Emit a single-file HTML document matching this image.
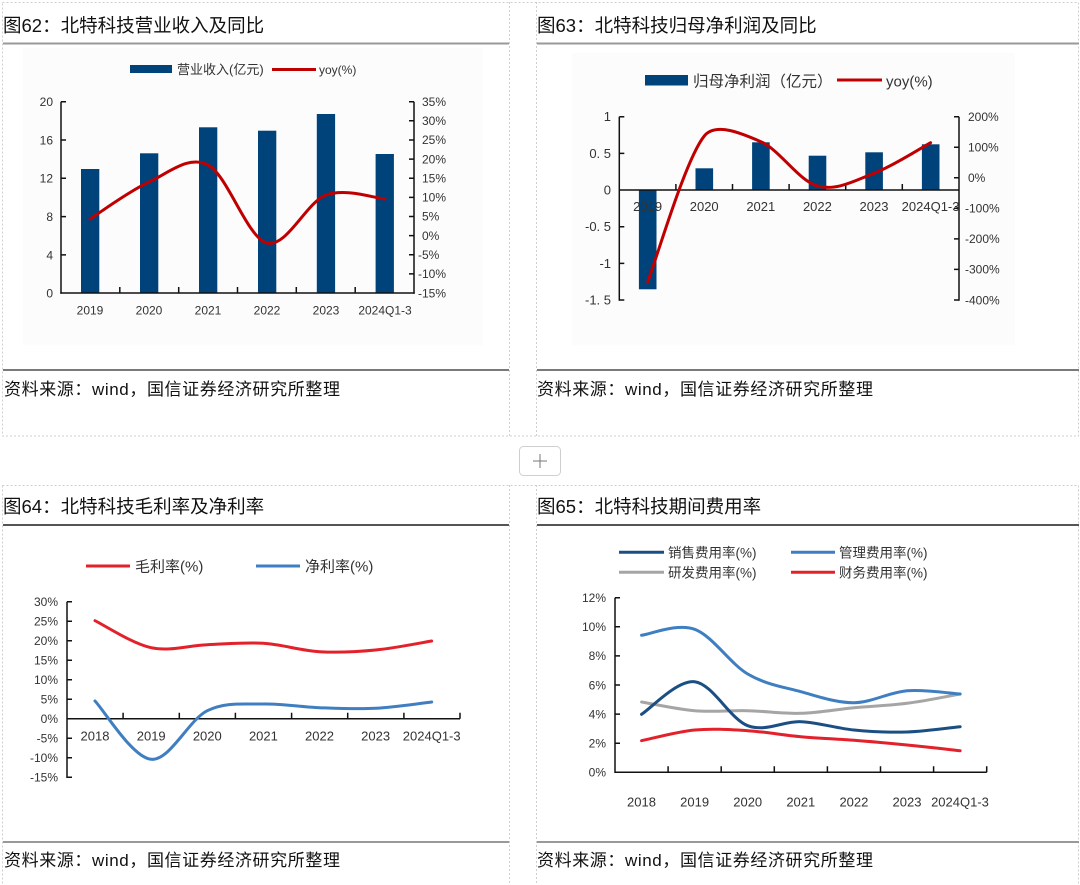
<!DOCTYPE html>
<html><head><meta charset="utf-8">
<style>
html,body{margin:0;padding:0;background:#fff;}
svg{display:block;}
text{font-family:"Liberation Sans","Noto Sans CJK SC",sans-serif;}
.t{font-size:18.5px;fill:#111;}
.src{font-size:17px;fill:#111;letter-spacing:0.6px;}
.ax{font-size:12px;fill:#333;}
.ax13{font-size:13px;fill:#333;}
</style></head><body>
<svg width="1080" height="885" viewBox="0 0 1080 885" xmlns="http://www.w3.org/2000/svg">
<rect width="1080" height="885" fill="#fff"/>
<!-- table borders -->
<g stroke="#cfcfcf" stroke-width="1" stroke-dasharray="2,2" fill="none">
<rect x="2.5" y="2.5" width="1076" height="433.5"/>
<line x1="509.5" y1="2" x2="509.5" y2="436"/>
<line x1="536.5" y1="2" x2="536.5" y2="436"/>
<rect x="2.5" y="485.5" width="1076" height="405"/>
<line x1="509.5" y1="485" x2="509.5" y2="885"/>
<line x1="536.5" y1="485" x2="536.5" y2="885"/>
</g>
<!-- rules -->
<g stroke-width="2">
<line x1="3" y1="43.5" x2="509" y2="43.5" stroke="#999"/>
<line x1="537" y1="43.5" x2="1079" y2="43.5" stroke="#999"/>
<line x1="3" y1="370" x2="509" y2="370" stroke="#7a7a7a"/>
<line x1="537" y1="370" x2="1079" y2="370" stroke="#7a7a7a"/>
<line x1="3" y1="525" x2="509" y2="525" stroke="#555"/>
<line x1="537" y1="525" x2="1079" y2="525" stroke="#555"/>
<line x1="3" y1="842" x2="509" y2="842" stroke="#999"/>
<line x1="537" y1="842" x2="1079" y2="842" stroke="#999"/>
</g>
<!-- plus button -->
<rect x="519.5" y="446.5" width="41" height="29" rx="4" fill="#fff" stroke="#cfcfcf"/>
<line x1="533" y1="461" x2="547" y2="461" stroke="#777" stroke-width="1"/>
<line x1="540" y1="454" x2="540" y2="468" stroke="#777" stroke-width="1"/>
<!-- titles -->
<text class="t" x="3" y="32">图62：北特科技营业收入及同比</text>
<text class="t" x="537" y="32">图63：北特科技归母净利润及同比</text>
<text class="t" x="3" y="513">图64：北特科技毛利率及净利率</text>
<text class="t" x="537" y="513">图65：北特科技期间费用率</text>
<text class="src" x="4" y="395">资料来源：wind，国信证券经济研究所整理</text>
<text class="src" x="537" y="395">资料来源：wind，国信证券经济研究所整理</text>
<text class="src" x="4" y="866">资料来源：wind，国信证券经济研究所整理</text>
<text class="src" x="537" y="866">资料来源：wind，国信证券经济研究所整理</text>

<!-- ================= Chart 1 ================= -->
<rect x="23" y="48" width="460" height="297" fill="#fcfcfc"/>
<rect x="130" y="65" width="42" height="8" fill="#00427a"/>
<text x="177" y="74" style="font-size:13px;fill:#333">营业收入(亿元)</text>
<line x1="272" y1="69.5" x2="316" y2="69.5" stroke="#c00000" stroke-width="3"/>
<text x="319" y="74" style="font-size:12px;fill:#333">yoy(%)</text>
<g fill="#00427a">
<rect x="81" y="169" width="18.3" height="124"/>
<rect x="140" y="153.3" width="18.3" height="139.7"/>
<rect x="199" y="127.3" width="18.3" height="165.7"/>
<rect x="258" y="130.7" width="18.3" height="162.3"/>
<rect x="316.8" y="114" width="18.3" height="179"/>
<rect x="375.6" y="154" width="18.3" height="139"/>
</g>
<g stroke="#111" stroke-width="1.5" fill="none">
<line x1="61" y1="101.7" x2="61" y2="293.8"/>
<line x1="414" y1="101.7" x2="414" y2="293.8"/>
<line x1="60.3" y1="293" x2="414.7" y2="293"/>
<path d="M61,101.7h5M61,140h5M61,178.3h5M61,216.6h5M61,254.9h5"/>
<path d="M409,101.7h5M409,120.8h5M409,140h5M409,159.1h5M409,178.2h5M409,197.4h5M409,216.5h5M409,235.6h5M409,254.8h5M409,273.9h5"/>
<path d="M119.8,293v-6M178.7,293v-6M237.5,293v-6M296.3,293v-6M355.2,293v-6"/>
</g>
<g class="ax" text-anchor="end">
<text x="53" y="106">20</text><text x="53" y="144.5">16</text><text x="53" y="182.7">12</text>
<text x="53" y="221">8</text><text x="53" y="259.3">4</text><text x="53" y="297.5">0</text>
</g>
<g class="ax">
<text x="422" y="106">35%</text><text x="422" y="125">30%</text><text x="422" y="144.2">25%</text>
<text x="422" y="163.3">20%</text><text x="422" y="182.4">15%</text><text x="422" y="201.6">10%</text>
<text x="422" y="220.7">5%</text><text x="422" y="239.8">0%</text><text x="418" y="259">-5%</text>
<text x="418" y="278.1">-10%</text><text x="418" y="297.3">-15%</text>
</g>
<g class="ax" text-anchor="middle">
<text x="90" y="314.5">2019</text><text x="149" y="314.5">2020</text><text x="208" y="314.5">2021</text>
<text x="267" y="314.5">2022</text><text x="326" y="314.5">2023</text><text x="385" y="314.5">2024Q1-3</text>
</g>
<path d="M90,219 C99.8,212.8 129.3,191 149,182 C168.7,173 188.3,154.8 208,165 C227.7,175.2 247.3,238 267,243 C286.7,248 306.3,202.3 326,195 C345.7,187.7 375.2,198.3 385,199" fill="none" stroke="#c00000" stroke-width="3" stroke-linecap="round"/>

<!-- ================= Chart 2 ================= -->
<rect x="572" y="53" width="443" height="292" fill="#fcfcfc"/>
<rect x="645" y="75" width="43" height="10.5" fill="#00427a"/>
<text x="693" y="86.5" style="font-size:15.5px;fill:#333">归母净利润（亿元）</text>
<line x1="837" y1="80" x2="882" y2="80" stroke="#c00000" stroke-width="3"/>
<text x="886" y="86.5" style="font-size:15px;fill:#333">yoy(%)</text>
<g fill="#00427a">
<rect x="638.9" y="190" width="17.6" height="99.3"/>
<rect x="695.5" y="168.3" width="17.6" height="21.7"/>
<rect x="752.1" y="142.3" width="17.6" height="47.7"/>
<rect x="808.7" y="155.7" width="17.6" height="34.3"/>
<rect x="865.3" y="152.3" width="17.6" height="37.7"/>
<rect x="921.9" y="144.3" width="17.6" height="45.7"/>
</g>
<g stroke="#111" stroke-width="1.5" fill="none">
<line x1="619.3" y1="116.7" x2="619.3" y2="300.8"/>
<line x1="959" y1="116.7" x2="959" y2="300.8"/>
<line x1="619.3" y1="190" x2="959" y2="190"/>
<path d="M619.3,116.7h5M619.3,153.4h5M619.3,226.7h5M619.3,263.4h5M619.3,300h5"/>
<path d="M954,116.7h5M954,147.2h5M954,177.8h5M954,208.3h5M954,238.9h5M954,269.4h5M954,300h5"/>
<path d="M675.9,190v-6M732.5,190v-6M789.1,190v-6M845.7,190v-6M902.3,190v-6"/>
</g>
<g class="ax13" text-anchor="end">
<text x="611" y="121.2">1</text><text x="611" y="157.9">0. 5</text><text x="611" y="194.5">0</text>
<text x="611" y="231.2">-0. 5</text><text x="611" y="267.9">-1</text><text x="611" y="304.5">-1. 5</text>
</g>
<g class="ax">
<text x="968" y="121">200%</text><text x="968" y="151.5">100%</text><text x="968" y="182">0%</text>
<text x="965" y="212.6">-100%</text><text x="965" y="243.2">-200%</text><text x="965" y="273.7">-300%</text><text x="965" y="304.3">-400%</text>
</g>
<g class="ax13" text-anchor="middle">
<text x="647.6" y="211.2">2019</text><text x="704.2" y="211.2">2020</text><text x="760.8" y="211.2">2021</text>
<text x="817.4" y="211.2">2022</text><text x="874" y="211.2">2023</text><text x="930.6" y="211.2">2024Q1-3</text>
</g>
<path d="M647.7,281.7 C657.1,257.4 685.4,159.3 704.3,136 C715.6,122 742,133.4 760.9,141.7 C779.8,150 798.6,180.7 817.5,186 C836.4,191.3 855.1,180.5 874,173.3 C892.9,166.1 921.2,147.8 930.6,142.7" fill="none" stroke="#c00000" stroke-width="3" stroke-linecap="round"/>

<!-- ================= Chart 3 ================= -->
<line x1="86" y1="566" x2="130" y2="566" stroke="#e3212b" stroke-width="3"/>
<text x="135" y="571.5" style="font-size:15px;fill:#333">毛利率(%)</text>
<line x1="256" y1="566" x2="300" y2="566" stroke="#3f7fc1" stroke-width="3"/>
<text x="305" y="571.5" style="font-size:15px;fill:#333">净利率(%)</text>
<g stroke="#111" stroke-width="1.5" fill="none">
<line x1="67" y1="601.7" x2="67" y2="778"/>
<line x1="67" y1="718.7" x2="460" y2="718.7"/>
<path d="M67,601.7h5M67,621.2h5M67,640.7h5M67,660.2h5M67,679.7h5M67,699.2h5M67,738.2h5M67,757.7h5M67,777.3h5"/>
<path d="M123.1,718.7v-6M179.3,718.7v-6M235.4,718.7v-6M291.6,718.7v-6M347.7,718.7v-6M403.9,718.7v-6M460,718.7v-6"/>
</g>
<g class="ax" text-anchor="end">
<text x="58" y="606">30%</text><text x="58" y="625.5">25%</text><text x="58" y="645">20%</text>
<text x="58" y="664.5">15%</text><text x="58" y="684">10%</text><text x="58" y="703.5">5%</text>
<text x="58" y="723">0%</text><text x="58" y="742.5">-5%</text><text x="58" y="762">-10%</text><text x="58" y="781.5">-15%</text>
</g>
<g class="ax13" text-anchor="middle">
<text x="95" y="740.5">2018</text><text x="151.2" y="740.5">2019</text><text x="207.3" y="740.5">2020</text>
<text x="263.4" y="740.5">2021</text><text x="319.5" y="740.5">2022</text><text x="375.6" y="740.5">2023</text><text x="431.7" y="740.5">2024Q1-3</text>
</g>
<path d="M95,620.7 C104.35,625.2 132.5,643.7 151.2,647.7 C169.9,651.7 188.6,645.4 207.3,644.7 C226,644 244.7,642.1 263.4,643.3 C282.1,644.5 300.8,650.6 319.5,651.7 C338.2,652.8 356.9,651.8 375.6,650 C394.3,648.2 422.35,642.5 431.7,641" fill="none" stroke="#e3212b" stroke-width="3" stroke-linecap="round"/>
<path d="M95,701 C104.35,710.7 132.5,757.7 151.2,759.3 C169.9,760.9 188.6,719.9 207.3,710.7 C226,701.5 244.7,704.5 263.4,704 C282.1,703.5 300.8,707 319.5,707.7 C338.2,708.4 356.9,709.3 375.6,708.3 C394.3,707.3 422.35,703.05 431.7,702" fill="none" stroke="#3f7fc1" stroke-width="3" stroke-linecap="round"/>

<!-- ================= Chart 4 ================= -->
<line x1="619" y1="552.3" x2="664" y2="552.3" stroke="#1b4f83" stroke-width="3"/>
<text x="668" y="557.3" style="font-size:13.5px;fill:#333">销售费用率(%)</text>
<line x1="791" y1="552.3" x2="835" y2="552.3" stroke="#3f7fc1" stroke-width="3"/>
<text x="839" y="557.3" style="font-size:13.5px;fill:#333">管理费用率(%)</text>
<line x1="619" y1="572.3" x2="664" y2="572.3" stroke="#a5a5a5" stroke-width="3"/>
<text x="668" y="577.3" style="font-size:13.5px;fill:#333">研发费用率(%)</text>
<line x1="791" y1="572.3" x2="835" y2="572.3" stroke="#e3212b" stroke-width="3"/>
<text x="839" y="577.3" style="font-size:13.5px;fill:#333">财务费用率(%)</text>
<g stroke="#111" stroke-width="1.5" fill="none">
<line x1="615" y1="597.7" x2="615" y2="773"/>
<line x1="615" y1="772.3" x2="986.7" y2="772.3"/>
<path d="M615,597.7h5M615,626.8h5M615,655.9h5M615,685h5M615,714.1h5M615,743.2h5"/>
<path d="M668.1,772.3v-6M721.2,772.3v-6M774.3,772.3v-6M827.4,772.3v-6M880.5,772.3v-6M933.6,772.3v-6M986.7,772.3v-6"/>
</g>
<g class="ax" text-anchor="end">
<text x="606" y="602">12%</text><text x="606" y="631.1">10%</text><text x="606" y="660.2">8%</text>
<text x="606" y="689.3">6%</text><text x="606" y="718.4">4%</text><text x="606" y="747.5">2%</text><text x="606" y="776.6">0%</text>
</g>
<g class="ax13" text-anchor="middle">
<text x="641.5" y="806.5">2018</text><text x="694.6" y="806.5">2019</text><text x="747.7" y="806.5">2020</text>
<text x="800.8" y="806.5">2021</text><text x="853.9" y="806.5">2022</text><text x="907" y="806.5">2023</text><text x="960" y="806.5">2024Q1-3</text>
</g>
<g fill="none" stroke-width="3" stroke-linecap="round">
<path stroke="#a5a5a5" d="M641.55,702 C650.4,703.45 676.95,709.25 694.65,710.7 C712.35,712.15 730.05,710.27 747.75,710.7 C765.45,711.13 783.15,713.8 800.85,713.3 C818.55,712.8 836.25,709.37 853.95,707.7 C871.65,706.03 889.35,705.58 907.05,703.3 C924.75,701.02 951.3,695.55 960.15,694"/>
<path stroke="#e3212b" d="M641.55,740.7 C650.4,738.92 676.95,731.67 694.65,730 C712.35,728.33 730.05,729.58 747.75,730.7 C765.45,731.82 783.15,735.1 800.85,736.7 C818.55,738.3 836.25,738.92 853.95,740.3 C871.65,741.68 889.35,743.27 907.05,745 C924.75,746.73 951.3,749.75 960.15,750.7"/>
<path stroke="#3f7fc1" d="M641.55,635.3 C650.4,634.3 676.95,622.85 694.65,629.3 C712.35,635.75 730.05,663.6 747.75,674 C765.45,684.4 783.15,686.92 800.85,691.7 C818.55,696.48 836.25,702.87 853.95,702.7 C871.65,702.53 889.35,692.15 907.05,690.7 C924.75,689.25 951.3,693.45 960.15,694"/>
<path stroke="#1b4f83" d="M641.55,714.3 C650.4,708.87 676.95,679.8 694.65,681.7 C712.35,683.6 730.05,719.03 747.75,725.7 C765.45,732.37 783.15,720.98 800.85,721.7 C818.55,722.42 836.25,728.28 853.95,730 C871.65,731.72 889.35,732.55 907.05,732 C924.75,731.45 951.3,727.58 960.15,726.7"/>
</g>
</svg>
</body></html>
